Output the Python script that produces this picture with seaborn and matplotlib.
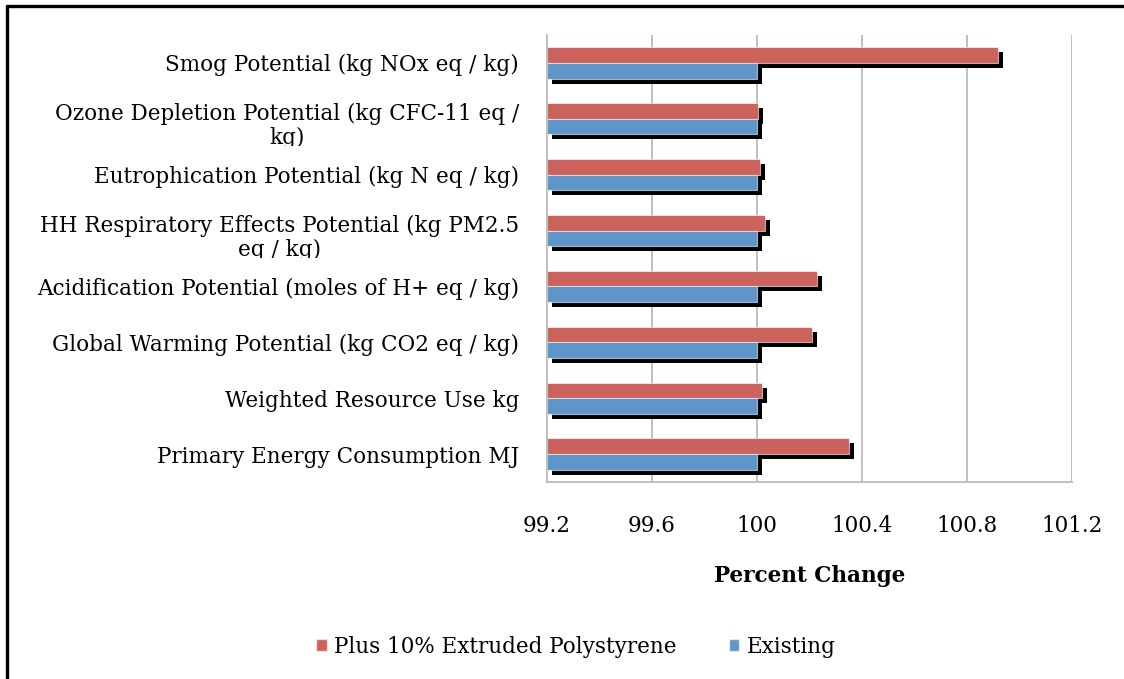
import numpy as np
import pandas as pd
import matplotlib
matplotlib.use("Agg")
import matplotlib.pyplot as plt
import matplotlib.patheffects as pe
from matplotlib.lines import Line2D
from matplotlib.patches import Patch
from matplotlib.transforms import Bbox, ScaledTranslation
import seaborn as sns

# ---- data -------------------------------------------------------------
categories = [
    "Smog Potential (kg NOx eq / kg)",
    "Ozone Depletion Potential (kg CFC-11 eq /\nkg)",
    "Eutrophication Potential (kg N eq / kg)",
    "HH Respiratory Effects Potential (kg PM2.5\neq / kg)",
    "Acidification Potential (moles of H+ eq / kg)",
    "Global Warming Potential (kg CO2 eq / kg)",
    "Weighted Resource Use kg",
    "Primary Energy Consumption MJ",
]
plus_xps = [100.92, 100.005, 100.01, 100.03, 100.23, 100.21, 100.02, 100.35]
existing = [100.0, 100.0, 100.0, 100.0, 100.0, 100.0, 100.0, 100.0]
series_names = ["Plus 10% Extruded Polystyrene", "Existing"]
x_ticks = [99.2, 99.6, 100.0, 100.4, 100.8, 101.2]
x_tick_labels = ["99.2", "99.6", "100", "100.4", "100.8", "101.2"]
x_title = "Percent Change"

# ---- styling ----------------------------------------------------------
RED = "#CB625C"
BLUE = "#5F95C9"
GRID = "#BFBFBF"
TEXT = "black"
FS = 15.5

sns.set_style("white")
plt.rcParams["font.family"] = ["DejaVu Serif"]
plt.rcParams["text.color"] = TEXT
plt.rcParams["axes.labelcolor"] = TEXT
plt.rcParams["xtick.labelcolor"] = TEXT
plt.rcParams["ytick.labelcolor"] = TEXT

df = pd.DataFrame({
    "category": categories * 2,
    "value": plus_xps + existing,
    "series": [series_names[0]] * len(categories) + [series_names[1]] * len(categories),
})

W, H = 1124, 679
fig = plt.figure(figsize=(W / 100, H / 100), dpi=100)
ax = fig.add_axes([547 / W, 1 - 482 / H, (1072 - 547) / W, (482 - 35) / H])

sns.barplot(
    data=df, x="value", y="category", hue="series", hue_order=series_names,
    order=categories, palette=[RED, BLUE], saturation=1, orient="h", width=0.56,
    edgecolor=(1, 1, 1, 0.6), linewidth=0.8, legend=False, ax=ax,
)

x_min, x_max = x_ticks[0], x_ticks[-1]
# bars grow from the left edge of the value axis, with a drop shadow
shadow = [pe.SimplePatchShadow(offset=(3.6, -3.6), shadow_rgbFace="black", alpha=1.0),
          pe.Normal()]
for cont in ax.containers:
    for bar in cont:
        v = bar.get_width()
        bar.set_x(x_min)
        bar.set_width(v - x_min)
        bar.set_path_effects(shadow)

ax.set_xlim(x_min, x_max)
ax.set_ylim(len(categories) - 0.5, -0.5)
ax.set_xticks(x_ticks)
ax.set_xticklabels(x_tick_labels, fontsize=FS, color=TEXT)
ax.set_yticks(range(len(categories)))
ax.set_yticklabels(categories, fontsize=FS, multialignment="center",
                   linespacing=1.1, color=TEXT)
ax.set_yticks(np.arange(-0.5, len(categories)), minor=True)
ax.set_ylabel("")
ax.set_xlabel(x_title, fontsize=FS, fontweight="bold", labelpad=20, color=TEXT)

ax.grid(axis="x", color=GRID, linewidth=1.4)
ax.set_axisbelow(True)
for side in ("top", "right"):
    ax.spines[side].set_visible(False)
for side in ("left", "bottom"):
    ax.spines[side].set_color(GRID)
    ax.spines[side].set_linewidth(1.4)

ax.tick_params(axis="y", which="major", length=0, pad=20)
ax.tick_params(axis="y", which="minor", length=5, width=1.2, color=GRID, direction="out")
ax.tick_params(axis="x", length=6, width=1.2, color=GRID, pad=18)

# wrapped labels sit a little lower and are cut at the edge of their
# category band
drop = ScaledTranslation(0, -3 / 72, fig.dpi_scale_trans)
for i, lab in enumerate(ax.get_yticklabels()):
    if "\n" in lab.get_text():
        lab.set_transform(lab.get_transform() + drop)
    y_top = ax.transData.transform((x_min, i - 0.5))[1]
    y_bot = ax.transData.transform((x_min, i + 0.5))[1] + 1
    lab.set_clip_box(Bbox([[0, min(y_top, y_bot)], [W, max(y_top, y_bot)]]))
    lab.set_clip_on(True)

handles = [Patch(facecolor=RED, edgecolor=(1, 1, 1, 0.6)),
           Patch(facecolor=BLUE, edgecolor=(1, 1, 1, 0.6))]
fig.legend(handles, series_names, loc="center", ncol=2, frameon=False,
           bbox_to_anchor=(576 / W, 1 - 647 / H), fontsize=FS,
           handlelength=0.5, handleheight=0.5, handletextpad=0.35,
           columnspacing=2.4, labelcolor=TEXT)

# page frame
fig.add_artist(Line2D([7 / W, 7 / W], [0, 1 - 6 / H], color="black", linewidth=2.4,
                      transform=fig.transFigure))
fig.add_artist(Line2D([7 / W, 1], [1 - 6 / H, 1 - 6 / H], color="black", linewidth=2.4,
                      transform=fig.transFigure))

fig.savefig("out.png", dpi=100)
